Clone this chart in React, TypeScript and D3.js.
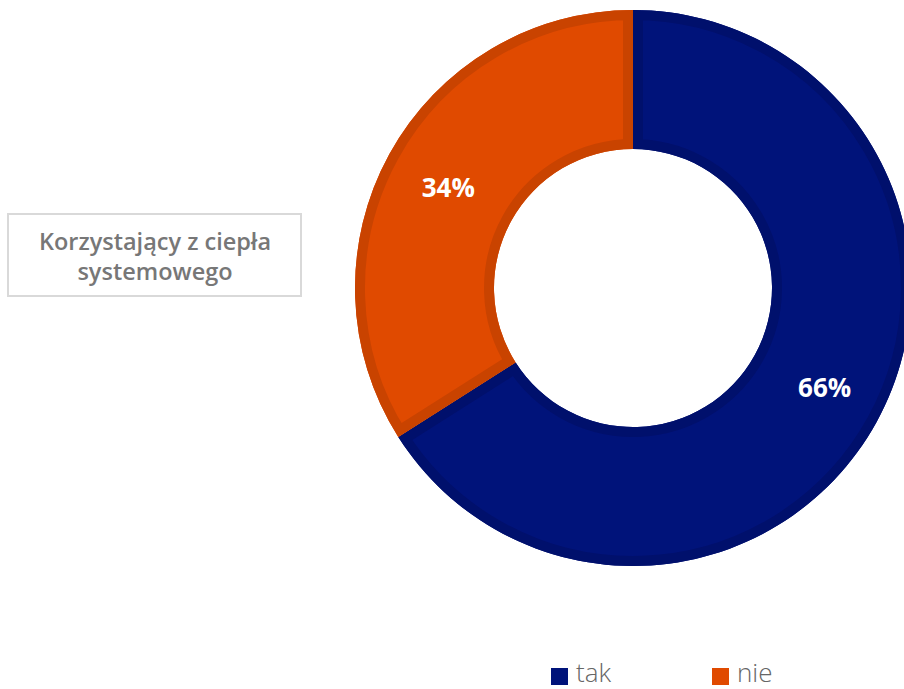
import React from "react";
import * as d3 from "d3";

const categories = ["tak", "nie"];
const values = [66, 34];
const colors = ["#00137a", "#e04a00"];
const bandColors = ["#00106c", "#c94300"];
const titleLines = ["Korzystający z ciepła", "systemowego"];

const W = 904;
const H = 689;
const cx = 633;
const cy = 288;
const outerR = 278;
const innerR = 139;

export default function App() {
  const pie = d3
    .pie<number>()
    .sort(null)
    .startAngle(0)
    .endAngle(2 * Math.PI)
    .value((d) => d);
  const arcs = pie(values);
  const arcGen = d3
    .arc<d3.PieArcDatum<number>>()
    .innerRadius(innerR)
    .outerRadius(outerR);
  const total = d3.sum(values);

  return (
    <svg
      width={W}
      height={H}
      style={{ position: "absolute", left: 0, top: 0, background: "#fff" }}
    >
      <defs>
        {arcs.map((a, i) => (
          <clipPath id={`clip${i}`} key={i}>
            <path d={arcGen(a) || ""} />
          </clipPath>
        ))}
      </defs>
      <g transform={`translate(${cx},${cy})`}>
        {arcs.map((a, i) => (
          <g key={i}>
            <path d={arcGen(a) || ""} fill={colors[i]} />
            <path
              d={arcGen(a) || ""}
              fill="none"
              stroke={bandColors[i]}
              strokeWidth={20}
              strokeLinejoin="miter"
              clipPath={`url(#clip${i})`}
            />
          </g>
        ))}
        {arcs.map((a, i) => {
          const [x, y] = arcGen.centroid(a);
          const dx = i === 0 ? 9 : -2;
          return (
            <text
              key={"l" + i}
              x={x + dx}
              y={y + 2}
              textAnchor="middle"
              dominantBaseline="middle"
              fill="#fff"
              fontFamily="'Open Sans', sans-serif"
              fontWeight={700}
              fontSize={26}
            >
              {Math.round((values[i] / total) * 100)}%
            </text>
          );
        })}
      </g>
      <g>
        <rect
          x={8}
          y={214}
          width={293}
          height={82}
          fill="#fff"
          stroke="#d9d9d9"
          strokeWidth={2}
        />
        {titleLines.map((t, i) => (
          <text
            key={t}
            x={155}
            y={250 + i * 30}
            textAnchor="middle"
            fill="#777"
            fontFamily="'Open Sans', sans-serif"
            fontWeight={600}
            fontSize={23.5}
          >
            {t}
          </text>
        ))}
      </g>
      <g>
        {categories.map((c, i) => {
          const lx = 551 + i * 161;
          return (
            <g key={c}>
              <rect x={lx} y={668} width={17} height={17} fill={colors[i]} />
              <text
                x={lx + 25}
                y={682}
                fill="#666"
                fontFamily="'Open Sans', sans-serif"
                fontWeight={300}
                fontSize={26}
              >
                {c}
              </text>
            </g>
          );
        })}
      </g>
    </svg>
  );
}
